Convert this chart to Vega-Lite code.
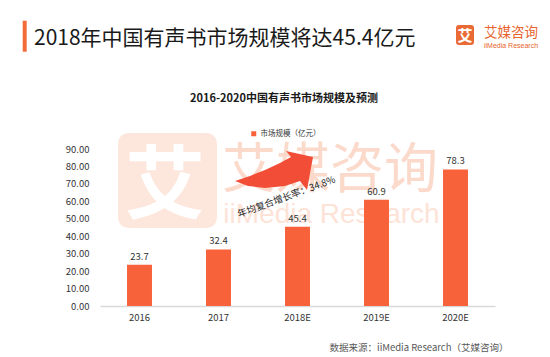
{
  "$schema": "https://vega.github.io/schema/vega-lite/v6.json",
  "width": 395,
  "height": 157,
  "autosize": {"type": "none"},
  "padding": {"left": 100, "top": 149, "right": 55, "bottom": 51},
  "background": "white",
  "config": {
    "view": {"stroke": null},
    "font": "Noto Sans CJK SC"
  },
  "datasets": {
    "bars": [
      {"year": "2016", "value": 23.7},
      {"year": "2017", "value": 32.4},
      {"year": "2018E", "value": 45.4},
      {"year": "2019E", "value": 60.9},
      {"year": "2020E", "value": 78.3}
    ]
  },
  "encoding": {
    "x": {
      "field": "year",
      "type": "nominal",
      "sort": null,
      "scale": {"domain": ["2016", "2017", "2018E", "2019E", "2020E"], "paddingInner": 0.684, "paddingOuter": 0.342},
      "axis": {
        "title": "数据来源：iiMedia Research（艾媒咨询）",
        "labelAngle": 0,
        "ticks": false,
        "domainColor": "#d9d9d9",
        "domainWidth": 1.5,
        "labelPadding": 6,
        "labelFontSize": 9.5,
        "labelColor": "#333333",
        "titleFontSize": 9.5,
        "titleFontWeight": "normal",
        "titleColor": "#595959",
        "titleAlign": "right",
        "titleAnchor": "end",
        "titleX": 408,
        "titleY": 41,
        "titleBaseline": "middle"
      }
    },
    "y": {
      "field": "value",
      "type": "quantitative",
      "scale": {"domain": [0, 90], "nice": false, "zero": true},
      "axis": {
        "title": null,
        "values": [0, 10, 20, 30, 40, 50, 60, 70, 80, 90],
        "format": ".2f",
        "grid": false,
        "domain": false,
        "ticks": false,
        "labelPadding": 11,
        "labelFontSize": 9.5,
        "labelColor": "#333333"
      }
    }
  },
  "layer": [
    {
      "data": {"values": [{"year": "2016", "value": 72}]},
      "mark": {"type": "point", "shape": "M -0.19 -0.95 L 1.31 -0.95 Q 1.55 -0.95 1.55 -0.71 L 1.55 0.71 Q 1.55 0.95 1.31 0.95 L -0.19 0.95 Q -0.43 0.95 -0.43 0.71 L -0.43 -0.71 Q -0.43 -0.95 -0.19 -0.95 Z", "size": 10000, "filled": true, "color": "#FDE7DD", "opacity": 1, "strokeWidth": 0}
    },
    {
      "data": {"values": [{"year": "2016", "value": 67.4}]},
      "mark": {"type": "text", "text": "艾", "fontSize": 80, "fontWeight": "bold", "color": "#FFFFFF", "dx": 25.5, "align": "center", "baseline": "middle"}
    },
    {
      "data": {"values": [{"year": "2018E", "value": 76.7}]},
      "mark": {"type": "text", "text": "艾媒咨询", "fontSize": 54, "color": "#FBDACB", "dx": 32.5, "align": "center", "baseline": "middle"}
    },
    {
      "data": {"values": [{"year": "2018E", "value": 47.6}]},
      "mark": {"type": "text", "text": "iiMedia Research", "font": "Liberation Sans", "fontSize": 28, "color": "#FDE3D7", "dx": 34, "align": "center", "baseline": "alphabetic"}
    },
    {
      "data": {"name": "bars"},
      "mark": {"type": "bar"},
      "encoding": {
        "color": {
          "datum": "市场规模（亿元）",
          "type": "nominal",
          "scale": {"range": ["#F7623A"]},
          "legend": {"orient": "none", "legendX": 150, "legendY": -19, "title": null, "symbolType": "square", "symbolSize": 25, "labelFontSize": 7.5, "labelColor": "#333333", "labelOffset": 3, "padding": 0}
        }
      }
    },
    {
      "data": {"name": "bars"},
      "mark": {"type": "text", "dy": -3, "baseline": "bottom", "fontSize": 9.5, "color": "#333333"},
      "encoding": {"text": {"field": "value", "type": "quantitative", "format": ".1f"}}
    },
    {
      "data": {"values": [{"year": "2018E", "value": 78}]},
      "mark": {"type": "point", "shape": "M -1.25 0.22 L -0.95 0.12 L -0.65 0 L -0.35 -0.14 L -0.13 -0.26 L -0.23 -0.38 L 0.31 -0.26 L 0.19 0.4 L 0.05 0.22 L -0.25 0.32 L -0.65 0.36 L -0.99 0.32 Z", "size": 10000, "filled": true, "color": "#F24E37", "opacity": 1, "strokeWidth": 0}
    },
    {
      "data": {"values": [{"year": "2018E", "value": 62.5}]},
      "mark": {"type": "text", "text": "年均复合增长率：34.8%", "fontSize": 9.5, "color": "#222222", "angle": 340, "dx": -10.3, "dy": -3.8, "align": "center", "baseline": "middle"}
    },
    {
      "data": {"values": [{"year": "2018E", "value": 118.7}]},
      "mark": {"type": "text", "text": "2016-2020中国有声书市场规模及预测", "fontSize": 11, "fontWeight": "bold", "color": "#1a1a1a", "dx": -13.5, "align": "center", "baseline": "middle"}
    },
    {
      "data": {"values": [{"year": "2016", "value": 90}]},
      "mark": {"type": "point", "shape": "M -2.336 -2.566 L -2.256 -2.566 L -2.256 -1.946 L -2.336 -1.946 Z", "size": 10000, "filled": true, "color": "#F26B3A", "opacity": 1, "strokeWidth": 0}
    },
    {
      "data": {"values": [{"year": "2016", "value": 149.6}]},
      "mark": {"type": "text", "text": "2018年中国有声书市场规模将达45.4亿元", "fontSize": 21, "color": "#1a1a1a", "dx": -105.5, "align": "left", "baseline": "alphabetic"}
    },
    {
      "data": {"values": [{"year": "2020E", "value": 90}]},
      "mark": {"type": "point", "shape": "M 0.07 -2.48 L 0.31 -2.48 Q 0.37 -2.48 0.37 -2.42 L 0.37 -2.14 Q 0.37 -2.08 0.31 -2.08 L 0.07 -2.08 Q 0.01 -2.08 0.01 -2.14 L 0.01 -2.42 Q 0.01 -2.48 0.07 -2.48 Z", "size": 10000, "filled": true, "color": "#EA6A35", "opacity": 1, "strokeWidth": 0}
    },
    {
      "data": {"values": [{"year": "2020E", "value": 154.8}]},
      "mark": {"type": "text", "text": "艾", "fontSize": 15, "fontWeight": "bold", "color": "#FFFFFF", "dx": 9.5, "align": "center", "baseline": "middle"}
    },
    {
      "data": {"values": [{"year": "2020E", "value": 156.5}]},
      "mark": {"type": "text", "text": "艾媒咨询", "fontSize": 13.5, "color": "#E8632D", "dx": 28.5, "align": "left", "baseline": "middle"}
    },
    {
      "data": {"values": [{"year": "2020E", "value": 149}]},
      "mark": {"type": "text", "text": "iiMedia Research", "font": "Liberation Sans", "fontSize": 7, "color": "#E8632D", "dx": 28.5, "align": "left", "baseline": "middle"}
    }
  ]
}
